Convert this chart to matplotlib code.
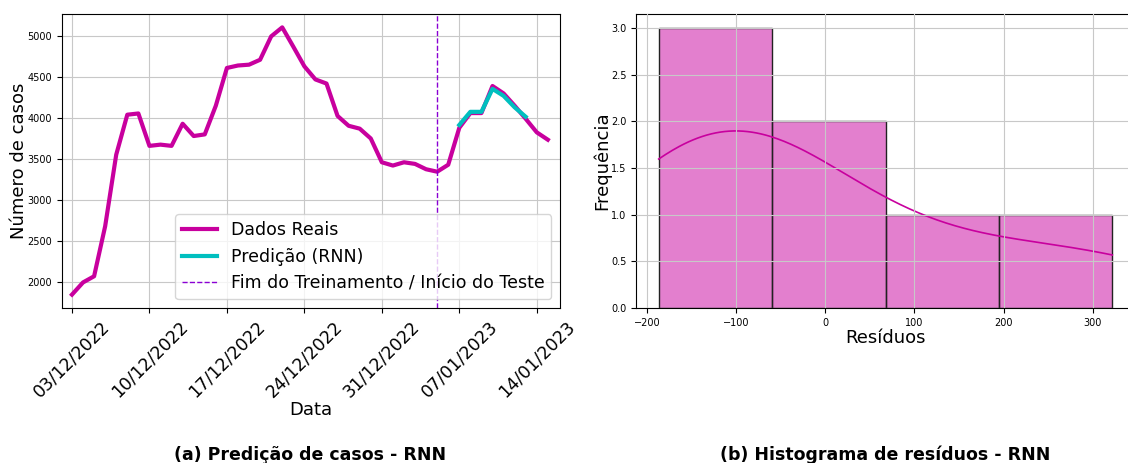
import numpy as np
import pandas as pd
import matplotlib
matplotlib.use("Agg")
import matplotlib.pyplot as plt
import matplotlib.dates as mdates

# dados
datas = pd.date_range("2022-12-03", "2023-01-15", freq="D")
casos_reais = [1846, 1995, 2070, 2680, 3553, 4040, 4055, 3660, 3675, 3660,
               3930, 3780, 3800, 4150, 4610, 4640, 4650, 4710, 4995, 5105,
               4870, 4630, 4470, 4420, 4025, 3905, 3870, 3750, 3460, 3420,
               3460, 3440, 3375, 3345, 3430, 3880, 4060, 4060, 4390, 4300,
               4150, 3990, 3825, 3735]
datas_pred = pd.date_range("2023-01-07", "2023-01-13", freq="D")
casos_pred = [3915, 4075, 4075, 4355, 4270, 4130, 4015]
fim_treino = pd.Timestamp("2023-01-05")
ticks_datas = pd.date_range("2022-12-03", "2023-01-14", freq="7D")
residuos = [-187, -160, -112, -55, -40, 145, 322]

cor_real = "#C8009E"
cor_pred = "#00BFBF"
cor_linha = "#8A00D4"

fig = plt.figure(figsize=(11.28, 4.63), dpi=100)
ax1 = fig.add_axes([62/1128, 1-308/463, (560-62)/1128, (308-14)/463])
ax2 = fig.add_axes([636/1128, 1-308/463, (1135-636)/1128, (308-14)/463])

# ---- (a) série temporal ----
ax1.plot(datas, casos_reais, color=cor_real, lw=3, label="Dados Reais")
ax1.plot(datas_pred, casos_pred, color=cor_pred, lw=3, label="Predição (RNN)")
ax1.axvline(fim_treino, color=cor_linha, ls="--", lw=1,
            label="Fim do Treinamento / Início do Teste")
ax1.set_xlim(datas[0] - pd.Timedelta(days=0.9), datas[-1] + pd.Timedelta(days=1.1))
ax1.set_xticks(ticks_datas)
ax1.xaxis.set_major_formatter(mdates.DateFormatter("%d/%m/%Y"))
ax1.tick_params(axis="x", labelsize=12.5, rotation=45)
for lb in ax1.get_xticklabels():
    lb.set_ha("center")
ax1.tick_params(axis="y", labelsize=7)
ax1.set_xlabel("Data", fontsize=13, labelpad=0)
ax1.set_ylabel("Número de casos", fontsize=13, labelpad=0)
ax1.grid(True, color="#c8c8c8")
ax1.legend(loc="lower right", fontsize=12.5)

# ---- (b) histograma ----
res = np.array(residuos, dtype=float)
cont, bordas, _ = ax2.hist(res, bins=4, facecolor=(0.784, 0.0, 0.62, 0.5),
                           edgecolor="#222222", lw=1)
bw = res.std(ddof=1) * len(res) ** (-1 / 5)
xs = np.linspace(res.min(), res.max(), 200)
dens = np.exp(-0.5 * ((xs[:, None] - res[None, :]) / bw) ** 2).sum(axis=1)
dens /= len(res) * bw * np.sqrt(2 * np.pi)
ax2.plot(xs, dens * len(res) * (bordas[1] - bordas[0]), color=cor_real, lw=1.2)
ax2.set_axisbelow(False)
ax2.grid(True, color="#c8c8c8")
ax2.tick_params(labelsize=7)
ax2.set_xlabel("Resíduos", fontsize=13, labelpad=1)
ax2.set_ylabel("Frequência", fontsize=13, labelpad=0)

fig.text(310/1128, 1-455/463, "(a) Predição de casos - RNN", ha="center",
         va="center", fontsize=12.5, fontweight="bold")
fig.text(885/1128, 1-455/463, "(b) Histograma de resíduos - RNN", ha="center",
         va="center", fontsize=12.5, fontweight="bold")

fig.savefig("out.png", dpi=100)
